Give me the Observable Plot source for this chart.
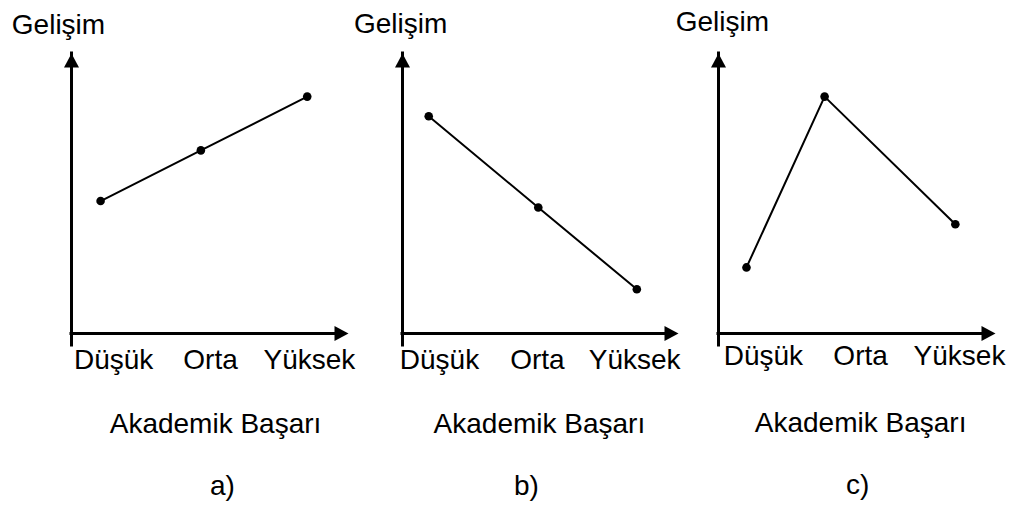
<!DOCTYPE html>
<html><head><meta charset="utf-8">
<script src="https://cdn.jsdelivr.net/npm/d3@7"></script>
<script src="https://cdn.jsdelivr.net/npm/@observablehq/plot@0.6"></script>
<style>
html,body{margin:0;padding:0;background:#fff;}
#chart{position:relative;width:1011px;height:509px;overflow:hidden;}
#chart svg{position:absolute;left:0;top:0;}
</style></head><body><div id="chart"></div>
<script>
// ---- data ----
const categories = ["Düşük", "Orta", "Yüksek"];
const panelLabels = ["a)", "b)", "c)"];
const yTitle = "Gelişim";
const xTitle = "Akademik Başarı";
// point positions in axis units (0–10 along each axis)
const seriesAX = [1.05, 4.67, 8.51];
const seriesAY = [4.73, 6.54, 8.46];
const seriesBX = [0.95, 4.92, 8.49];
const seriesBY = [7.76, 4.50, 1.58];
const seriesCX = [1.01, 3.83, 8.55];
const seriesCY = [2.36, 8.46, 3.90];
// category tick-label positions along the x axis (axis units)
const tickA = [1.52, 5.02, 8.59];
const tickB = [1.34, 4.89, 8.41];
const tickC = [1.62, 5.13, 8.70];

// ---- layout (kept apart from the data) ----
const W = 1011, H = 509;
const FONT = "'Liberation Sans', Arial, Helvetica, sans-serif";
const layout = [
  {marginLeft: 71,  marginRight: W - 348, tickY: -1.25, titleX: -0.47, titleY: 10.71, xTitleX: 5.20, xTitleY: -3.54, nameX: 5.45, nameY: -5.75},
  {marginLeft: 402, marginRight: W - 678, tickY: -1.25, titleX: -0.07, titleY: 10.75, xTitleX: 4.96, xTitleY: -3.54, nameX: 4.49, nameY: -5.75},
  {marginLeft: 718, marginRight: W - 995, tickY: -1.14, titleX: 0.14,  titleY: 10.82, xTitleX: 5.13, xTitleY: -3.50, nameX: 5.02, nameY: -5.72}
];
const panels = [
  {name: panelLabels[0], xs: seriesAX, ys: seriesAY, ticks: tickA},
  {name: panelLabels[1], xs: seriesBX, ys: seriesBY, ticks: tickB},
  {name: panelLabels[2], xs: seriesCX, ys: seriesCY, ticks: tickC}
];

// filled arrowheads with the tip at the symbol origin
const arrowUp = {draw(ctx) { ctx.moveTo(0, 0); ctx.lineTo(7.5, 14); ctx.lineTo(-7.5, 14); ctx.closePath(); }};
const arrowRight = {draw(ctx) { ctx.moveTo(0, 0); ctx.lineTo(-14, 7.5); ctx.lineTo(-14, -7.5); ctx.closePath(); }};

const chart = document.getElementById("chart");
panels.forEach((p, k) => {
  const L = layout[k];
  const rows = categories.map((c, i) => ({cat: c, x: p.xs[i], y: p.ys[i]}));
  const tickRows = categories.map((c, i) => ({text: c, x: p.ticks[i]}));
  const svg = Plot.plot({
    width: W, height: H,
    marginTop: 53, marginBottom: H - 333,
    marginLeft: L.marginLeft, marginRight: L.marginRight,
    x: {domain: [0, 10], axis: null},
    y: {domain: [0, 10], axis: null},
    style: {background: "transparent", fontFamily: FONT, fontSize: "28px", color: "black", overflow: "visible"},
    marks: [
      Plot.ruleX([0], {y1: 0, y2: 10, insetTop: 12, stroke: "black", strokeWidth: 3, strokeLinecap: "square"}),
      Plot.ruleY([0], {x1: 0, x2: 10, insetRight: 12, stroke: "black", strokeWidth: 3, strokeLinecap: "square"}),
      Plot.dot([0], {x: 0, y: 10, symbol: arrowUp, fill: "black", stroke: "none"}),
      Plot.dot([0], {x: 10, y: 0, symbol: arrowRight, fill: "black", stroke: "none"}),
      Plot.line(rows, {x: "x", y: "y", stroke: "black", strokeWidth: 2}),
      Plot.dot(rows, {x: "x", y: "y", r: 4.3, fill: "black", stroke: "none"}),
      Plot.text(tickRows, {x: "x", y: L.tickY, text: "text", textAnchor: "middle", lineAnchor: "bottom", fontSize: 28, fontFamily: FONT, fill: "black"}),
      Plot.text([yTitle], {x: L.titleX, y: L.titleY, text: d => d, textAnchor: "middle", lineAnchor: "bottom", fontSize: 28, fontFamily: FONT, fill: "black"}),
      Plot.text([xTitle], {x: L.xTitleX, y: L.xTitleY, text: d => d, textAnchor: "middle", lineAnchor: "bottom", fontSize: 28, fontFamily: FONT, fill: "black"}),
      Plot.text([p.name], {x: L.nameX, y: L.nameY, text: d => d, textAnchor: "middle", lineAnchor: "bottom", fontSize: 28, fontFamily: FONT, fill: "black"})
    ]
  });
  chart.appendChild(svg);
});
</script>
</body></html>
